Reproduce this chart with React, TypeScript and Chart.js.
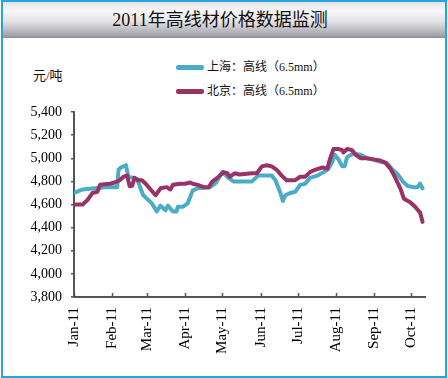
import React, { useEffect, useRef } from "react";
import { Chart, registerables } from "chart.js";

Chart.register(...registerables);

const titleText = "2011年高线材价格数据监测";
const unitText = "元/吨";
const seriesNames = ["上海：高线（6.5mm）", "北京：高线（6.5mm）"];
const seriesColors = ["#4BACC6", "#993366"];

// day-of-year offsets (Jan 1 = 0) for month ticks
const monthStarts = [0, 31, 59, 90, 120, 151, 181, 212, 243, 273];
const monthLabels = ["Jan-11", "Feb-11", "Mar-11", "Apr-11", "May-11", "Jun-11", "Jul-11", "Aug-11", "Sep-11", "Oct-11"];
const xMax = 284;
const yMin = 3800;
const yMax = 5400;
const yStep = 200;

// 上海
const shDays = [0, 7, 17, 25, 35, 36, 38, 42, 44, 48, 51, 56, 63, 67, 70, 74, 76, 80, 83, 84, 88, 92, 96, 100, 110, 115, 120, 125, 129, 144, 149, 160, 163, 167, 169, 171, 175, 179, 183, 187, 191, 197, 202, 206, 209, 211, 214, 217, 219, 221, 226, 232, 237, 242, 248, 253, 257, 262, 266, 270, 274, 278, 280, 282];
const shValues = [4700, 4730, 4740, 4750, 4750, 4900, 4920, 4940, 4840, 4830, 4820, 4680, 4610, 4540, 4590, 4550, 4590, 4540, 4540, 4580, 4580, 4610, 4720, 4740, 4750, 4790, 4880, 4830, 4800, 4800, 4850, 4850, 4810, 4700, 4630, 4680, 4700, 4710, 4770, 4780, 4830, 4850, 4880, 4910, 4970, 5030, 4990, 4930, 4930, 5010, 5040, 5030, 5000, 4990, 4970, 4960, 4910, 4860, 4800, 4760, 4750, 4750, 4780, 4740];

// 北京
const bjDays = [0, 7, 11, 15, 19, 21, 29, 33, 37, 40, 43, 45, 47, 49, 52, 55, 58, 62, 66, 70, 75, 78, 80, 86, 90, 94, 96, 100, 105, 109, 112, 116, 121, 124, 126, 130, 134, 144, 148, 152, 156, 160, 164, 168, 172, 179, 183, 187, 191, 195, 201, 205, 207, 210, 214, 217, 218, 221, 225, 228, 232, 237, 242, 248, 252, 256, 260, 264, 267, 272, 276, 280, 282];
const bjValues = [4600, 4600, 4640, 4700, 4710, 4770, 4780, 4790, 4810, 4840, 4850, 4760, 4760, 4830, 4810, 4810, 4780, 4730, 4680, 4740, 4750, 4730, 4770, 4780, 4780, 4790, 4780, 4770, 4750, 4750, 4800, 4830, 4880, 4870, 4840, 4870, 4860, 4870, 4870, 4930, 4940, 4930, 4900, 4850, 4810, 4810, 4840, 4840, 4880, 4900, 4920, 4910, 4990, 5080, 5080, 5070, 5050, 5080, 5070, 5030, 5000, 5000, 4990, 4980, 4960, 4910, 4830, 4740, 4650, 4620, 4580, 4530, 4450];

const serifStack = "'Liberation Serif', 'Noto Sans CJK SC', serif";
const yTickFont = { family: serifStack, size: 14 };
const xTickFont = { family: serifStack, size: 15 };
const axisColor = "#555555";

const innerTicks = {
  id: "innerTicks",
  afterDraw(chart: any) {
    const { ctx, chartArea } = chart;
    const x = chart.scales.x;
    ctx.save();
    ctx.strokeStyle = axisColor;
    ctx.lineWidth = 1.5;
    monthStarts.forEach((v) => {
      const px = Math.round(x.getPixelForValue(v)) + 0.5;
      ctx.beginPath();
      ctx.moveTo(px, chartArea.bottom);
      ctx.lineTo(px, chartArea.bottom - 4);
      ctx.stroke();
    });
    ctx.restore();
  },
};

export default function App() {
  const ref = useRef<HTMLCanvasElement | null>(null);

  useEffect(() => {
    if (!ref.current) return;
    const chart = new Chart(ref.current, {
      type: "line",
      data: {
        datasets: [
          {
            label: seriesNames[1],
            data: bjDays.map((d, i) => ({ x: d, y: bjValues[i] })),
            borderColor: seriesColors[1],
            backgroundColor: seriesColors[1],
            borderWidth: 4,
            pointRadius: 0,
            tension: 0,
            borderJoinStyle: "round",
            borderCapStyle: "round",
          },
          {
            label: seriesNames[0],
            data: shDays.map((d, i) => ({ x: d, y: shValues[i] })),
            borderColor: seriesColors[0],
            backgroundColor: seriesColors[0],
            borderWidth: 4,
            pointRadius: 0,
            tension: 0,
            borderJoinStyle: "round",
            borderCapStyle: "round",
          },
        ],
      },
      options: {
        responsive: false,
        animation: false,
        devicePixelRatio: 1,
        layout: { padding: { left: 0, top: 112, right: 23, bottom: 0 } },
        plugins: { legend: { display: false }, tooltip: { enabled: false } },
        scales: {
          x: {
            type: "linear",
            min: 0,
            max: xMax,
            afterBuildTicks: (s: any) => {
              s.ticks = monthStarts.map((v) => ({ value: v }));
            },
            afterFit: (s: any) => {
              s.height = 81;
            },
            ticks: {
              autoSkip: false,
              minRotation: 90,
              maxRotation: 90,
              padding: 10,
              color: "#000",
              font: xTickFont,
              callback: (v: any) => {
                const i = monthStarts.indexOf(Number(v));
                return i >= 0 ? monthLabels[i] : "";
              },
            },
            grid: { display: true, drawOnChartArea: false, drawTicks: false },
            border: { display: true, color: axisColor, width: 2 },
          },
          y: {
            min: yMin,
            max: yMax,
            afterFit: (s: any) => {
              s.width = 74;
            },
            ticks: {
              stepSize: yStep,
              padding: 9,
              color: "#000",
              font: yTickFont,
            },
            grid: { display: true, drawOnChartArea: false, drawTicks: true, tickLength: 3, color: axisColor, lineWidth: 1.5 },
            border: { display: true, color: axisColor, width: 2 },
          },
        },
      },
      plugins: [innerTicks],
    } as any);
    return () => chart.destroy();
  }, []);

  return (
    <div style={{ position: "fixed", left: 0, top: 0, width: 448, height: 378, background: "#fff", overflow: "hidden" }}>
      <div
        style={{
          position: "absolute",
          left: 1,
          top: 0,
          width: 446,
          height: 378,
          boxSizing: "border-box",
          border: "2px solid #2AA3DC",
        }}
      />
      <div
        style={{
          position: "absolute",
          left: 3,
          top: 2,
          width: 442,
          height: 36,
          background: "linear-gradient(#e4e4e7 0%, #f7f7f8 25%, #e2e2e6 55%, #a4a4ab 92%, #8e8e96 100%)",
        }}
      />
      <div
        style={{
          position: "absolute",
          left: 0,
          width: 440,
          top: 8,
          textAlign: "center",
          fontFamily: serifStack,
          fontSize: 18,
          lineHeight: "24px",
          color: "#111",
        }}
      >
        {titleText}
      </div>
      <div style={{ position: "absolute", left: 33, top: 68, fontFamily: serifStack, fontSize: 13, lineHeight: "16px", color: "#111" }}>
        {unitText}
      </div>
      {seriesNames.map((name, i) => (
        <div key={name} style={{ position: "absolute", left: 176, top: 59 + i * 24, height: 16, display: "flex", alignItems: "center" }}>
          <div style={{ width: 28, height: 5, background: seriesColors[i], borderRadius: 2 }} />
          <div style={{ marginLeft: 3, fontFamily: serifStack, fontSize: 12, lineHeight: "16px", color: "#111", whiteSpace: "nowrap" }}>{name}</div>
        </div>
      ))}
      <canvas ref={ref} width={448} height={378} style={{ position: "absolute", left: 0, top: 0, width: 448, height: 378 }} />
    </div>
  );
}
